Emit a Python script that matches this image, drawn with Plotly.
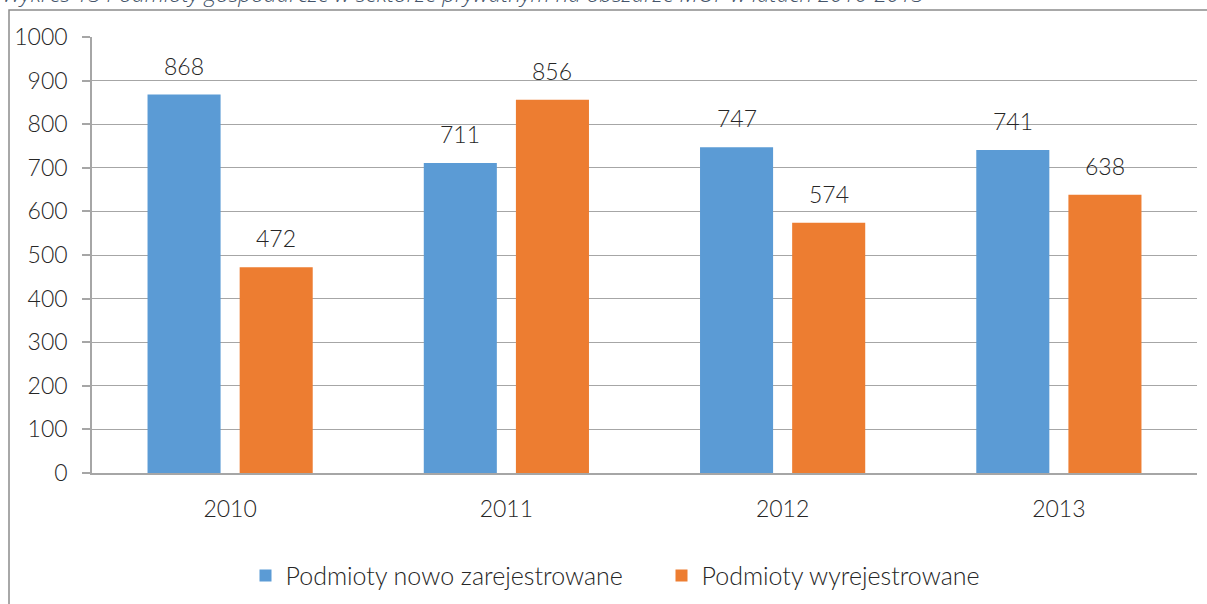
import plotly.graph_objects as go

years = ["2010", "2011", "2012", "2013"]
nowo = [868, 711, 747, 741]
wyrej = [472, 856, 574, 638]
series_names = ["Podmioty nowo zarejestrowane", "Podmioty wyrejestrowane"]
colors = ["#5b9bd5", "#ed7d31"]
title_text = "Wykres 13 Podmioty gospodarcze w sektorze prywatnym na obszarze MOF w latach 2010-2013"

W, H = 1207, 604
L, R, T, B = 92, 10, 37, 131
pw, ph = W - L - R, H - T - B
FONT = "Lato"
TXT = "#262626"
FS = 23

fig = go.Figure()
for name, vals, col in zip(series_names, [nowo, wyrej], colors):
    fig.add_trace(go.Bar(x=years, y=vals, name=name, marker_color=col,
                         marker_line_width=0, offsetgroup=name))

bargap, bgg = 0.333, 0.207
for i, vals in enumerate([nowo, wyrej]):
    off = (-0.25 if i == 0 else 0.25) * (1 - bargap)
    for j, v in enumerate(vals):
        fig.add_annotation(x=j + off, y=v, xref="x", yref="y", text=str(v),
                           showarrow=False, yanchor="bottom", yshift=13,
                           font=dict(size=FS, color=TXT, family=FONT, weight=300))

fig.add_annotation(x=(0 - L) / pw, y=1 + (T - 11) / ph, xref="paper", yref="paper",
                   xanchor="left", yanchor="bottom", text="<i>" + title_text + "</i>",
                   showarrow=False,
                   font=dict(size=22.5, color="#44546a", family="Open Sans"))

fig.add_shape(type="rect", xref="paper", yref="paper",
              x0=(9 - L) / pw, x1=(W + 60 - L) / pw,
              y0=-(B + 60) / ph, y1=1 + (T - 10) / ph,
              line=dict(color="#8c8c8c", width=1.5), fillcolor="rgba(0,0,0,0)", layer="below")

fig.update_layout(
    width=W, height=H,
    margin=dict(l=L, r=R, t=T, b=B, autoexpand=False),
    plot_bgcolor="white", paper_bgcolor="white",
    barmode="group", bargap=bargap, bargroupgap=bgg,
    font=dict(family=FONT, size=FS, color=TXT, weight=300),
    legend=dict(orientation="h", x=0.5 + 17 / pw, xanchor="center", y=-0.19 + 3 / ph,
                yanchor="top",
                font=dict(size=25, family=FONT, color=TXT, weight=300),
                itemwidth=30, tracegroupgap=0, entrywidth=371),
    showlegend=True,
    xaxis=dict(showline=True, linecolor="#a6a6a6", linewidth=1.5, ticks="",
               tickfont=dict(size=FS, weight=300), showgrid=False, ticklabelstandoff=15),
    yaxis=dict(range=[0, 1000], dtick=100, showline=True, linecolor="#a6a6a6",
               linewidth=1.5, ticks="outside", ticklen=8, tickcolor="#a6a6a6",
               tickwidth=1.5, gridcolor="#a6a6a6", gridwidth=1.2,
               tickfont=dict(size=FS, weight=300), ticklabelstandoff=10, zeroline=False),
)
fig.write_html("out.html", post_script="document.body.style.margin='0';",
               config={"displayModeBar": False})
